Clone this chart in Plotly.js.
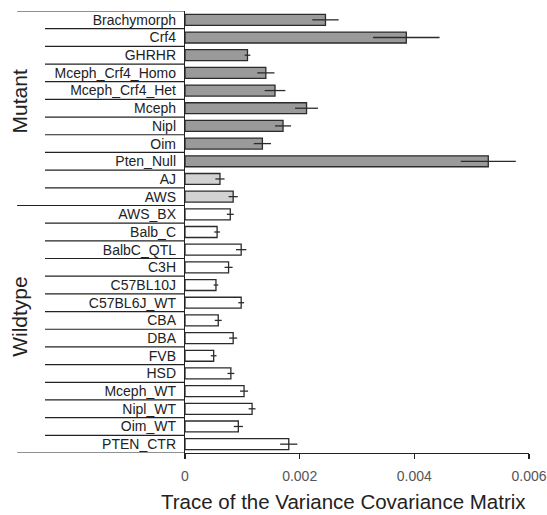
<!DOCTYPE html>
<html>
<head>
<meta charset="utf-8">
<script src="https://cdn.plot.ly/plotly-3.0.1.min.js"></script>
<style>html,body{margin:0;padding:0;background:#fff;}#chart{width:547px;height:515px;}</style>
</head>
<body>
<div id="chart"></div>
<script>
const strains = ["Brachymorph","Crf4","GHRHR","Mceph_Crf4_Homo","Mceph_Crf4_Het","Mceph","Nipl","Oim","Pten_Null","AJ","AWS","AWS_BX","Balb_C","BalbC_QTL","C3H","C57BL10J","C57BL6J_WT","CBA","DBA","FVB","HSD","Mceph_WT","Nipl_WT","Oim_WT","PTEN_CTR"];
const traceValues = [0.00245,0.00386,0.00109,0.00141,0.00157,0.00212,0.00171,0.00135,0.00529,0.00061,0.00084,0.00079,0.00056,0.00098,0.00076,0.00054,0.00098,0.00058,0.00084,0.00050,0.00080,0.00103,0.00117,0.00093,0.00181];
const traceErrors = [0.00023,0.00058,0.00005,0.00015,0.00018,0.00020,0.00014,0.00015,0.00048,0.00008,0.00008,0.00006,0.00005,0.00009,0.00007,0.00004,0.00005,0.00006,0.00007,0.00005,0.00006,0.00007,0.00006,0.00008,0.00015];
const strainClass = ["mutant","mutant","mutant","mutant","mutant","mutant","mutant","mutant","mutant","background","background","wildtype","wildtype","wildtype","wildtype","wildtype","wildtype","wildtype","wildtype","wildtype","wildtype","wildtype","wildtype","wildtype","wildtype"];
const groupNames = ["Mutant","Wildtype"];
const xTickVals = [0,0.002,0.004,0.006];
const xTickText = ["0","0.002","0.004","0.006"];
const xTitle = "Trace of the Variance Covariance Matrix";

const classColor = {mutant:"#9a9a9a", background:"#d2d2d2", wildtype:"#ffffff"};
const groupBreak = 11; // rows above separator

const trace = {
  type: "bar",
  orientation: "h",
  y: strains,
  x: traceValues,
  width: 0.62,
  marker: {color: strainClass.map(c => classColor[c]), line: {color: "#2b2b2b", width: 1.3}},
  error_x: {type: "data", array: traceErrors, visible: true, color: "#2b2b2b", thickness: 1.3, width: 0},
  hoverinfo: "none"
};

const shapes = [];
const innerX0 = -0.407, outerX0 = -0.488;
for (let k = 0; k <= strains.length; k++) {
  const long = (k === 0 || k === groupBreak || k === strains.length);
  shapes.push({type:"line", xref:"paper", yref:"y", x0: long ? outerX0 : innerX0, x1: 0, y0: k - 0.5, y1: k - 0.5, line:{color:"#222", width:1.2}});
}

const layout = {
  width: 547, height: 515,
  margin: {l: 185, r: 18, t: 11, b: 62},
  paper_bgcolor: "#fff", plot_bgcolor: "#fff",
  showlegend: false,
  font: {family: "Liberation Sans, Arial, sans-serif", color: "#222"},
  xaxis: {
    range: [0, 0.006], tickvals: xTickVals, ticktext: xTickText,
    showgrid: false, zeroline: false, showline: true, linecolor: "#222", linewidth: 1.2,
    ticks: "outside", ticklen: 5, tickcolor: "#222", tickwidth: 1.2, ticklabelstandoff: 5,
    tickfont: {size: 14, color: "#555"}
  },
  yaxis: {
    type: "category", categoryorder: "array", categoryarray: strains,
    range: [strains.length - 0.5, -0.5],
    showgrid: false, zeroline: false, showline: true, linecolor: "#222", linewidth: 1.2,
    ticks: "", ticklabelstandoff: 5,
    tickfont: {size: 14, color: "#222"}
  },
  shapes: shapes,
  annotations: [
    {text: groupNames[0], xref:"paper", yref:"paper", x: -0.48, y: 0.795, textangle: -90, showarrow:false, font:{size:21, color:"#222"}, xanchor:"center", yanchor:"middle"},
    {text: groupNames[1], xref:"paper", yref:"paper", x: -0.48, y: 0.31, textangle: -90, showarrow:false, font:{size:21, color:"#222"}, xanchor:"center", yanchor:"middle"},
    {text: xTitle, xref:"paper", yref:"paper", x: 0.462, y: -0.11, showarrow:false, font:{size:20.5, color:"#222"}, xanchor:"center", yanchor:"middle"}
  ]
};

Plotly.newPlot("chart", [trace], layout, {staticPlot: true, displayModeBar: false});
</script>
</body>
</html>
